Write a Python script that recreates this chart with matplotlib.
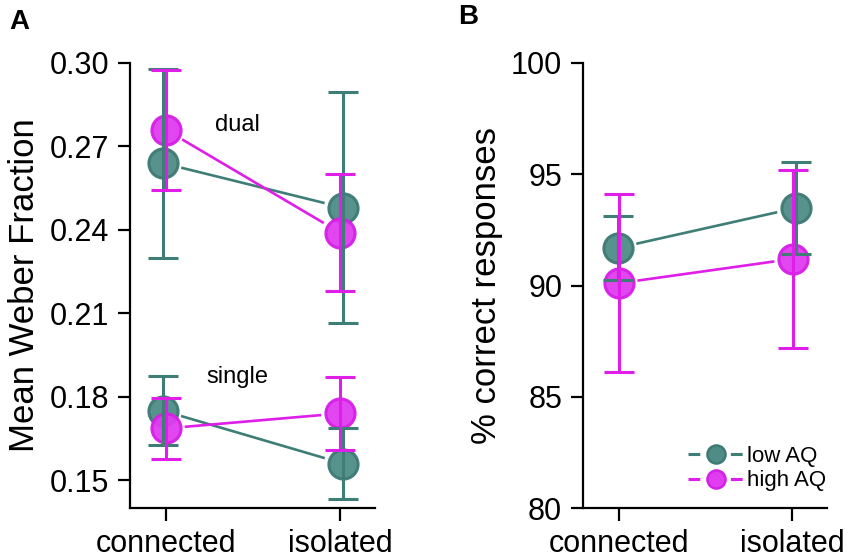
import matplotlib
matplotlib.use("Agg")
import matplotlib.pyplot as plt
import numpy as np
from matplotlib.lines import Line2D

plt.rcParams['font.family'] = ['Liberation Sans', 'DejaVu Sans']
plt.rcParams['lines.scale_dashes'] = False

# ---------------- data ----------------
categories = ['connected', 'isolated']

# Panel A: Mean Weber Fraction
dual_low_mean = [0.264, 0.248]
dual_low_err = [0.034, 0.0415]
dual_high_mean = [0.276, 0.239]
dual_high_err = [0.0215, 0.021]
single_low_mean = [0.175, 0.156]
single_low_err = [0.0125, 0.0128]
single_high_mean = [0.1686, 0.174]
single_high_err = [0.011, 0.013]
a_yticks = [0.15, 0.18, 0.21, 0.24, 0.27, 0.30]
a_yticklabels = ['0.15', '0.18', '0.21', '0.24', '0.27', '0.30']

# Panel B: % correct responses
b_low_mean = [91.69, 93.48]
b_low_err = [1.43, 2.07]
b_high_mean = [90.1, 91.2]
b_high_err = [4.0, 4.0]
b_yticks = [80, 85, 90, 95, 100]

series_labels = ['low AQ', 'high AQ']

# ---------------- style ----------------
TEAL_FACE = '#4f8c86'
TEAL_EDGE = '#3e7a74'
TEAL_LINE = '#3f7d77'
MAG_FACE = '#e03cf0'
MAG_EDGE = '#d61fe6'
MAG_LINE = '#df1ee9'

W, H = 850, 560
fig = plt.figure(figsize=(W / 100, H / 100), dpi=100)

def px_axes(l, r, t, b):
    return fig.add_axes([l / W, 1 - b / H, (r - l) / W, (b - t) / H])

axA = px_axes(130, 375, 63, 508)
axB = px_axes(583, 827, 63, 508)

x = np.arange(len(categories))
dodge = 0.017
MS = 21
LW = 1.9

def style_axes(ax, ylim, yticks, yticklabels):
    ax.set_xlim(-0.205, 1.2)
    ax.set_ylim(*ylim)
    for s in ['top', 'right']:
        ax.spines[s].set_visible(False)
    for s in ['left', 'bottom']:
        ax.spines[s].set_linewidth(1.6)
        ax.spines[s].set_color('black')
    ax.spines['left'].set_bounds(ylim[0], yticks[-1])
    ax.set_xticks(x)
    ax.set_xticklabels(categories)
    ax.set_yticks(yticks)
    ax.set_yticklabels(yticklabels)
    ax.tick_params(axis='both', length=9, width=1.6, labelsize=22, pad=6, color='black')
    ax.set_facecolor('none')

def short_line(ax, xs, ys, color, gap_px=19):
    # shrink the connecting segment at both ends so it stops short of the markers
    pts = ax.transData.transform(np.column_stack([xs, ys]))
    p0, p1 = pts[0], pts[1]
    d = p1 - p0
    n = np.hypot(*d)
    u = d / n
    q0 = p0 + u * gap_px
    q1 = p1 - u * gap_px
    dat = ax.transData.inverted().transform(np.vstack([q0, q1]))
    ax.plot(dat[:, 0], dat[:, 1], color=color, lw=LW, zorder=2, solid_capstyle='butt')

def draw_series(ax, xs, mean, err, face, edge, line, zbase):
    short_line(ax, xs, mean, line)
    ax.plot(xs, mean, 'o', ms=MS, mfc=face, mec=edge, mew=2.2, alpha=0.95,
            zorder=zbase, linestyle='none')
    ax.errorbar(xs, mean, yerr=err, fmt='none', ecolor=line, elinewidth=2.2,
                capsize=11, capthick=2.2, zorder=zbase + 10)

style_axes(axA, (0.14, 0.30), a_yticks, a_yticklabels)
style_axes(axB, (80, 100), b_yticks, [str(v) for v in b_yticks])

xl = np.array([x[0] - dodge, x[1] + dodge])
xh = np.array([x[0], x[1]])

draw_series(axA, xl, dual_low_mean, dual_low_err, TEAL_FACE, TEAL_EDGE, TEAL_LINE, 3)
draw_series(axA, xh, dual_high_mean, dual_high_err, MAG_FACE, MAG_EDGE, MAG_LINE, 4)
draw_series(axA, xl, single_low_mean, single_low_err, TEAL_FACE, TEAL_EDGE, TEAL_LINE, 3)
draw_series(axA, xh, single_high_mean, single_high_err, MAG_FACE, MAG_EDGE, MAG_LINE, 4)

xlb = np.array([x[0] - 0.005, x[1] + 0.02])
xhb = np.array([x[0], x[1] + 0.005])
draw_series(axB, xlb, b_low_mean, b_low_err, TEAL_FACE, TEAL_EDGE, TEAL_LINE, 3)
draw_series(axB, xhb, b_high_mean, b_high_err, MAG_FACE, MAG_EDGE, MAG_LINE, 4)

axA.text(0.41, 0.2777, 'dual', fontsize=17, ha='center', va='center')
axA.text(0.41, 0.1870, 'single', fontsize=17, ha='center', va='center')

axA.set_ylabel('Mean Weber Fraction', fontsize=25, labelpad=6)
axB.set_ylabel('% correct responses', fontsize=25, labelpad=6)

fig.text(9 / W, 1 - 22 / H, 'A', fontsize=20, fontweight='bold', va='center', ha='left')
fig.text(458 / W, 1 - 17 / H, 'B', fontsize=20, fontweight='bold', va='center', ha='left')

# legend
handles = []
for face, edge, line in [(TEAL_FACE, TEAL_EDGE, TEAL_LINE), (MAG_FACE, MAG_EDGE, MAG_LINE)]:
    handles.append(Line2D([0], [0], color=line, lw=2.2, ls=(0, (8.5, 22)),
                          marker='o', ms=13, mfc=face, mec=edge, mew=1.8))
leg = axB.legend(handles, series_labels, loc='upper left',
                 bbox_to_anchor=(688 / W, 1 - 446 / H), bbox_transform=fig.transFigure,
                 frameon=False, fontsize=16, handlelength=2.5, handletextpad=0.15,
                 labelspacing=0.15, borderpad=0, borderaxespad=0)

fig.savefig('out.png', dpi=100)
